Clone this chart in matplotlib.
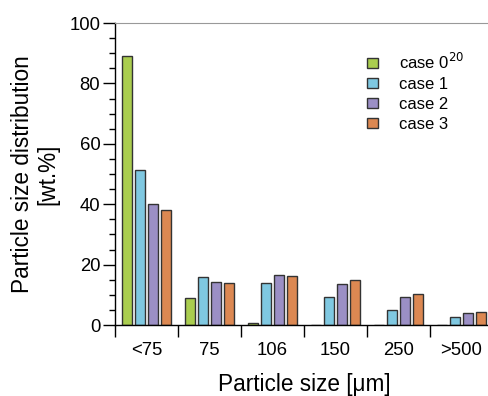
import matplotlib.pyplot as plt
import numpy as np

plt.rcParams['font.family'] = ['Liberation Sans', 'DejaVu Sans']

# particle size classes
sizes = ['<75', '75', '106', '150', '250', '>500']

# wt.% per case
case0 = [89.2, 9.0, 0.8, 0, 0, 0]
case1 = [51.2, 15.9, 13.8, 9.3, 4.9, 2.5]
case2 = [40.2, 14.3, 16.5, 13.7, 9.2, 4.1]
case3 = [38.0, 14.0, 16.3, 14.8, 10.3, 4.4]

labels = ['case 0$^{20}$', 'case 1', 'case 2', 'case 3']
colors = ['#aacd4f', '#7fc8e1', '#9b8fc5', '#dc8852']

fig = plt.figure(figsize=(4.88, 3.96), dpi=100)
ax = fig.add_axes([115/488, (396-325)/396, 378/488, 302/396])

x = np.arange(len(sizes)) + 0.5
step = 0.206
w = 0.168
for i, (vals, lab, col) in enumerate(zip([case0, case1, case2, case3], labels, colors)):
    ax.bar(x + (i - 1.5)*step, vals, width=w, color=col, edgecolor='#333333',
           linewidth=1.0, label=lab)

ax.set_xlim(0, 6)
ax.set_ylim(0, 100)

ax.set_xticks(np.arange(0, 7))
ax.set_xticklabels([])
ax.set_xticks(x, minor=True)
ax.set_xticklabels(sizes, minor=True)
ax.tick_params(axis='x', which='major', direction='out', length=8.6, width=1.0)
ax.tick_params(axis='x', which='minor', length=0, labelsize=13.3, pad=12)

ax.set_yticks([0, 20, 40, 60, 80, 100])
ax.set_yticks(np.arange(0, 101, 5), minor=True)
ax.tick_params(axis='y', which='major', direction='out', length=8.6, width=1.0, labelsize=13.3, pad=2)
ax.tick_params(axis='y', which='minor', direction='out', length=4.3, width=1.0)

ax.spines['right'].set_visible(False)
ax.spines['top'].set_color('#999999')
ax.spines['left'].set_linewidth(1.0)
ax.spines['bottom'].set_linewidth(1.0)

ax.set_ylabel('Particle size distribution\n[wt.%]', fontsize=16.3, labelpad=7, linespacing=1.15)
ax.set_xlabel('Particle size [μm]', fontsize=16.3, labelpad=10)

ax.legend(loc='upper left', bbox_to_anchor=(0.667, 0.905), frameon=False, fontsize=12,
          handlelength=0.65, handleheight=0.5, handletextpad=1.25, labelspacing=0.3,
          borderpad=0, borderaxespad=0)

fig.savefig('out.png', dpi=100)
